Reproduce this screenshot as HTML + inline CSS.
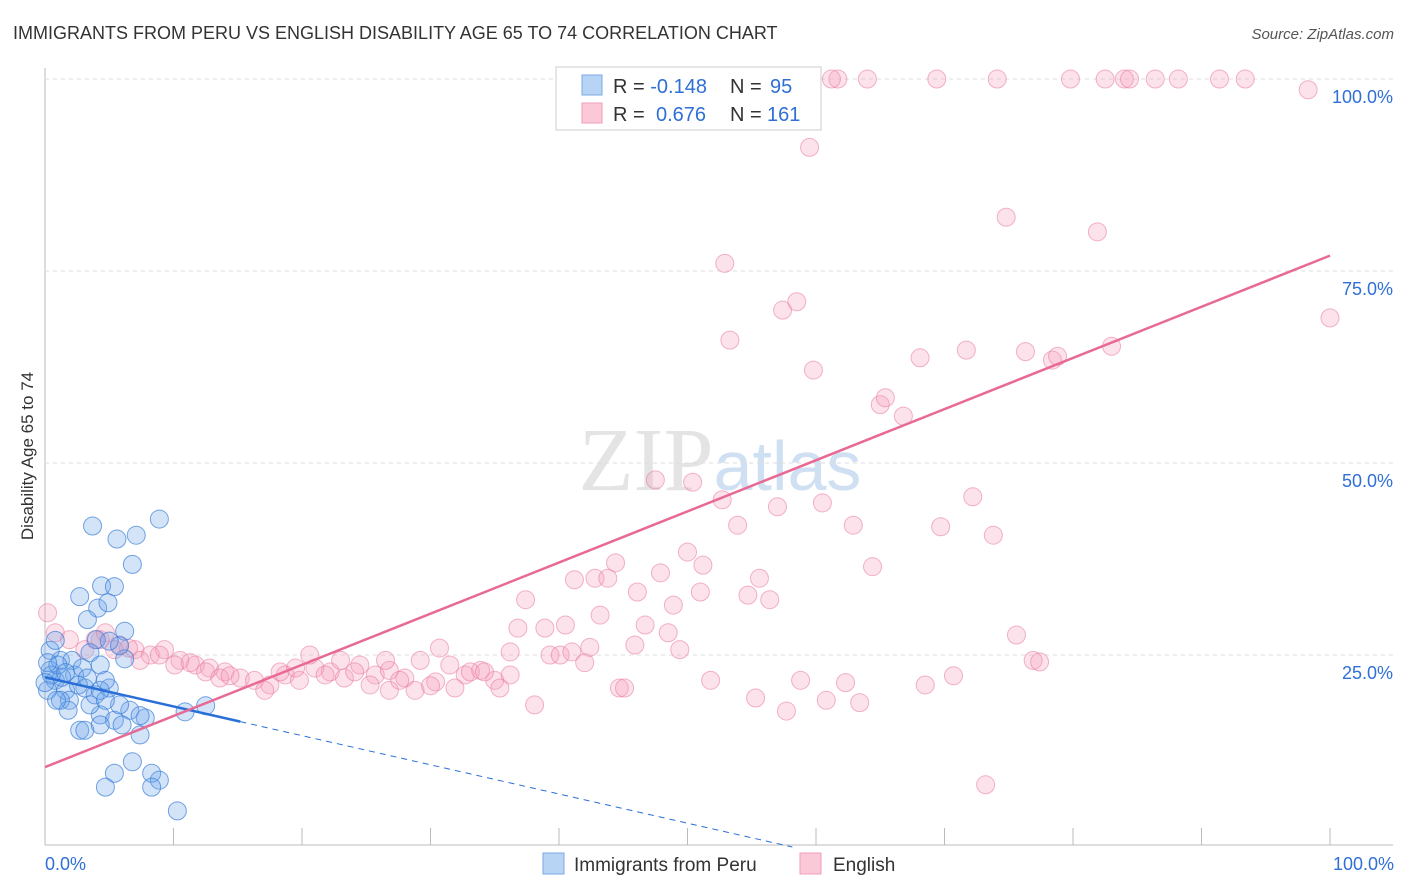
<!DOCTYPE html>
<html><head><meta charset="utf-8"><style>
body{margin:0;background:#fff;font-family:"Liberation Sans",sans-serif}
svg{display:block}
</style></head><body>
<svg id="c" width="1406" height="892">
<text x="13" y="39" font-size="18" fill="#333">IMMIGRANTS FROM PERU VS ENGLISH DISABILITY AGE 65 TO 74 CORRELATION CHART</text>
<text x="1394" y="39" font-size="15" fill="#555" text-anchor="end" font-style="italic">Source: ZipAtlas.com</text>
<text x="33" y="456" font-size="17" fill="#333" text-anchor="middle" transform="rotate(-90 33 456)">Disability Age 65 to 74</text>
<text x="720" y="490" font-size="90" fill="#e4e4e4" text-anchor="middle" font-family="Liberation Serif">ZIP<tspan fill="#cfe0f3" font-family="Liberation Sans" font-size="70">atlas</tspan></text>
<g id="grid"></g><g id="pts"></g><g id="trend"></g>
<g>
<rect x="556" y="67" width="265" height="63" fill="#fff" stroke="#ccc"/>
<rect x="582" y="75" width="20" height="20" fill="#b8d4f5" stroke="#7aa9e6"/>
<rect x="582" y="103" width="20" height="20" fill="#fbc8d8" stroke="#ef9fb8"/>
<text x="613" y="93" font-size="20" fill="#333">R = <tspan fill="#2f6fd6">-0.148</tspan><tspan x="730">N = </tspan><tspan fill="#2f6fd6" x="770">95</tspan></text>
<text x="613" y="121" font-size="20" fill="#333">R = <tspan fill="#2f6fd6" x="656">0.676</tspan><tspan x="730">N = </tspan><tspan fill="#2f6fd6" x="767">161</tspan></text>
</g>
<g>
<rect x="543" y="853" width="21" height="21" fill="#b8d4f5" stroke="#7aa9e6"/>
<text x="574" y="871" font-size="19" fill="#333">Immigrants from Peru</text>
<rect x="800" y="853" width="21" height="21" fill="#fbc8d8" stroke="#ef9fb8"/>
<text x="833" y="871" font-size="19" fill="#333">English</text>
</g>
<text x="45" y="870" font-size="18" fill="#2f6fd6">0.0%</text>
<text x="1394" y="870" font-size="18" fill="#2f6fd6" text-anchor="end">100.0%</text>
</svg>
<script>
const yTicks=[25,50,75,100];
const blueX=[3.7,2.7,5.6,7.1,8.9,6.8,4.4,5.4,4.1,4.9,3.3,6.2,4.0,3.5,6.2,4.3,1.2,0.4,0.8,1.6,2.3,3.1,1.9,5.0,4.3,5.4,6.6,7.8,5.8,7.4,2.7,3.1,10.9,12.5,6.8,5.4,4.7,8.3,8.9,8.3,10.3,1.2,3.5,1.8,0.4,0.8,0.2,1.3,2.1,3.9,4.7,7.4,4.3,2.6,0.5,1.0,5.8,5.0,0.2,1.6,2.9,3.3,4.7,6.0,4.3,0.9,0];
const blueY=[41.8,32.6,40.1,40.6,42.7,36.8,34.0,33.9,31.1,31.8,29.6,28.1,27.0,25.3,24.5,23.7,24.3,23.0,21.7,20.4,22.4,20.7,19.1,20.7,17.2,16.5,17.8,16.8,18.5,14.6,15.2,15.2,17.6,18.4,11.1,9.6,7.8,9.6,8.7,7.8,4.7,19.1,18.5,17.8,25.6,26.9,20.4,22.1,24.3,19.8,19.1,17.1,20.4,21.1,22.4,23.7,26.2,26.8,24.0,22.7,23.3,22.0,21.7,15.9,15.9,19.1,21.4];
const pinkX=[0.2,0.8,1.9,3.1,4.3,5.8,7.0,8.2,9.3,10.5,11.7,12.8,14.0,15.2,16.3,17.5,18.7,19.8,21.0,22.2,23.3,24.5,25.7,26.8,28.0,29.2,30.4,31.5,32.7,33.9,35.0,36.2,30.7,31.9,33.1,34.2,35.4,36.2,36.8,37.4,38.1,38.9,39.3,40.1,40.5,41.0,41.2,42.0,42.4,42.8,43.2,43.8,44.4,44.7,45.1,45.9,46.1,46.7,47.5,47.9,48.5,48.9,49.4,50.0,50.4,51.0,51.2,51.8,52.7,53.3,53.9,54.7,55.3,55.6,56.4,57.0,57.4,57.7,58.5,58.8,59.5,59.8,60.5,60.8,61.7,62.3,62.9,63.4,64.0,64.4,65.0,65.4,66.8,68.1,68.5,69.4,69.7,70.7,71.7,72.2,73.2,73.8,74.1,74.8,75.6,76.3,76.9,77.4,78.4,78.8,79.8,81.9,82.5,83.0,84.0,84.4,86.4,88.2,91.4,93.4,98.3,100,52.9,61.2,28.8,26.8,30.0,52.3,3.9,4.7,5.4,6.5,7.4,8.9,10.1,11.3,12.5,13.6,14.4,17.1,18.3,19.5,20.6,21.8,23.0,24.1,25.3,26.5,27.6];
const pinkY=[30.5,27.9,27.0,25.7,27.0,26.3,25.7,25.0,25.7,24.3,23.7,23.3,22.8,22.0,21.7,21.1,22.4,21.7,23.3,22.8,22.0,23.7,22.4,23.0,22.0,24.3,21.5,23.7,22.4,23.0,21.7,22.4,25.9,20.7,22.8,22.8,20.7,25.4,28.5,32.2,18.5,28.5,25.0,25.0,28.9,25.4,34.8,24.0,26.0,35.0,30.2,35.0,37.0,20.7,20.7,26.3,33.2,28.9,47.8,35.7,27.9,31.5,25.7,38.4,47.5,33.2,36.7,21.7,45.2,66.0,41.9,32.8,19.4,35.0,32.2,44.3,69.9,17.7,71.0,21.7,91.1,62.1,44.8,19.1,100,21.4,41.9,18.8,100,36.5,57.6,58.5,56.1,63.7,21.1,100,41.7,22.3,64.7,45.6,8.1,40.6,100,82.0,27.6,64.5,24.3,24.1,63.4,63.9,100,80.1,100,65.2,100,100,100,100,100,100,98.6,68.9,76.0,100,20.4,20.4,21.0,100,27.0,27.9,25.7,25.9,24.3,25.0,23.7,24.0,22.8,22.0,22.3,20.4,22.8,23.3,25.0,22.4,24.3,22.8,21.1,24.3,21.7];
const blueTrend=[22.1,-0.38];
const pinkTrend=[10.4,77.0];
const X=v=>45+v*12.85, Y=v=>847-v*7.68;
const NS='http://www.w3.org/2000/svg';
function mk(tag,parent,attrs){const e=document.createElementNS(NS,tag);for(const k in attrs)e.setAttribute(k,attrs[k]);document.getElementById(parent).appendChild(e);return e;}
let e;
e=mk('line','grid',{x1:45,y1:68,x2:45,y2:845,stroke:'#bbb'});


e=mk('line','grid',{x1:45,y1:845,x2:1393,y2:845,stroke:'#bbb'});


for(const t of yTicks){
 e=mk('line','grid',{x1:45,y1:Y(t),x2:1393,y2:Y(t),stroke:'#ddd','stroke-dasharray':'4 4'});
 
 
 e=mk('text','grid',{x:1393,y:Y(t)+24,'font-size':18,fill:'#2f6fd6','text-anchor':'end'});
 e.textContent=t.toFixed(1)+'%';
 
 
}
for(let i=0;i<=10;i++){
 e=mk('line','grid',{x1:X(i*10),y1:828,x2:X(i*10),y2:845,stroke:'#bbb'});
 
 
}
for(let i=0;i<pinkX.length;i++){
 e=mk('circle','pts',{cx:X(pinkX[i]),cy:Y(pinkY[i]),r:9,fill:'rgba(246,160,188,0.3)',stroke:'rgba(232,120,158,0.55)'});
 
 
}
for(let i=0;i<blueX.length;i++){
 e=mk('circle','pts',{cx:X(blueX[i]),cy:Y(blueY[i]),r:9,fill:'rgba(110,165,235,0.3)',stroke:'rgba(60,125,215,0.7)'});
 
 
}
const bEnd=15.2, bZero=-blueTrend[0]/blueTrend[1];
e=mk('line','trend',{x1:X(0),y1:Y(blueTrend[0]),x2:X(bEnd),y2:Y(blueTrend[0]+blueTrend[1]*bEnd),stroke:'#2a6fd8','stroke-width':2.5});


e=mk('line','trend',{x1:X(bEnd),y1:Y(blueTrend[0]+blueTrend[1]*bEnd),x2:X(bZero),y2:Y(0),stroke:'#2a6fd8','stroke-width':1,'stroke-dasharray':'6 5'});


e=mk('line','trend',{x1:X(0),y1:Y(pinkTrend[0]),x2:X(100),y2:Y(pinkTrend[1]),stroke:'#e86a94','stroke-width':2.5});


</script>
</body></html>
